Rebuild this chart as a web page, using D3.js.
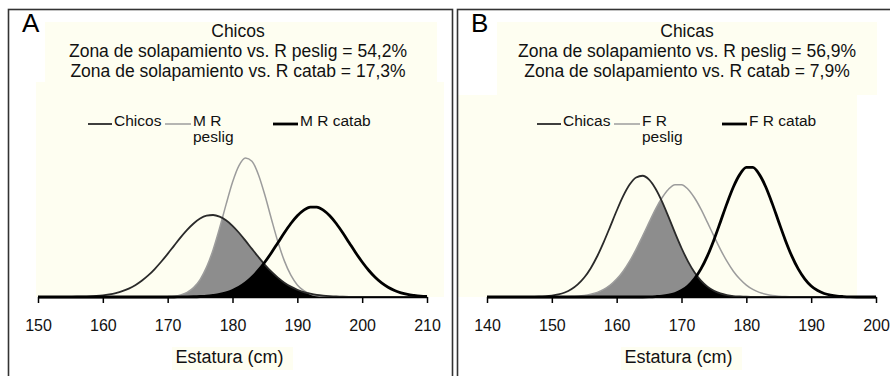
<!DOCTYPE html>
<html>
<head>
<meta charset="utf-8">
<script src="https://cdn.jsdelivr.net/npm/d3@7"></script>
<style>
  body { margin: 0; background: #fff; }
  svg { display: block; font-family: "Liberation Sans", Arial, sans-serif; }
</style>
</head>
<body>
<svg id="chart" width="890" height="376"></svg>
<script>
// estatura (cm), one value per cm; curves are relative frequency (per mil)
const estaturaA = [150,151,152,153,154,155,156,157,158,159,160,161,162,163,164,165,166,167,168,169,
  170,171,172,173,174,175,176,177,178,179,180,181,182,183,184,185,186,187,188,189,
  190,191,192,193,194,195,196,197,198,199,200,201,202,203,204,205,206,207,208,209,210];
const chicos = [0,0,0,0,0,0.1,0.2,0.3,0.5,0.8,
  1.3,2.1,3.2,4.7,6.8,9.6,13.2,17.5,22.7,28.6,
  35.0,41.7,48.3,54.4,59.6,63.6,65.9,66.5,65.2,62.2,
  57.7,52.1,45.7,39.0,32.4,26.1,20.5,15.7,11.6,8.4,
  5.9,4.0,2.7,1.7,1.1,0.7,0.4,0.2,0.1,0.1,
  0,0,0,0,0,0,0,0,0,0,0];
const mPeslig = [0,0,0,0,0,0,0,0,0,0,
  0,0,0,0,0,0,0,0,0,0.1,
  0.3,0.7,1.7,3.8,7.6,14.1,24.2,38.2,55.7,74.9,
  93.1,106.6,112.8,110.1,99.2,82.5,63.3,44.8,29.3,17.7,
  9.8,5.1,2.4,1.0,0.4,0.2,0.1,0,0,0,
  0,0,0,0,0,0,0,0,0,0,0];
const mCatab = [0,0,0,0,0,0,0,0,0,0,
  0,0,0,0,0,0,0,0,0,0,
  0,0,0.1,0.1,0.2,0.4,0.7,1.3,2.1,3.4,
  5.3,7.9,11.4,16.0,21.7,28.4,35.9,44.0,52.1,59.6,
  65.9,70.5,72.9,72.9,70.5,65.9,59.6,52.1,44.0,35.9,
  28.4,21.7,16.0,11.4,7.9,5.3,3.4,2.1,1.3,0.7,0.4];

const estaturaB = [140,141,142,143,144,145,146,147,148,149,150,151,152,153,154,155,156,157,158,159,
  160,161,162,163,164,165,166,167,168,169,170,171,172,173,174,175,176,177,178,179,
  180,181,182,183,184,185,186,187,188,189,190,191,192,193,194,195,196,197,198,199,200];
const chicas = [0,0,0,0,0,0,0,0.1,0.2,0.5,
  1.0,1.8,3.2,5.5,9.0,13.9,20.6,29.1,39.2,50.3,
  61.6,72.0,80.3,85.4,86.6,83.8,77.3,68.1,57.2,45.8,
  35.0,25.5,17.7,11.7,7.4,4.5,2.6,1.4,0.7,0.4,
  0.2,0.1,0,0,0,0,0,0,0,0,
  0,0,0,0,0,0,0,0,0,0,0];
const fPeslig = [0,0,0,0,0,0,0,0,0,0,
  0,0.1,0.2,0.3,0.6,1.1,2.0,3.3,5.4,8.5,
  12.8,18.4,25.6,34.0,43.5,53.3,62.8,70.9,77.0,80.2,
  80.2,77.0,70.9,62.8,53.3,43.5,34.0,25.6,18.4,12.8,
  8.5,5.4,3.3,2.0,1.1,0.6,0.3,0.2,0.1,0,
  0,0,0,0,0,0,0,0,0,0,0];
const fCatab = [0,0,0,0,0,0,0,0,0,0,
  0,0,0,0,0,0,0,0,0,0,
  0,0,0,0,0,0.1,0.3,0.6,1.3,2.5,
  4.6,7.9,13.0,20.1,29.4,40.8,53.6,66.7,78.6,87.6,
  92.6,92.6,87.6,78.6,66.7,53.6,40.8,29.4,20.1,13.0,
  7.9,4.6,2.5,1.3,0.6,0.3,0.1,0,0,0,0];

const ticksA = [150,160,170,180,190,200,210];
const ticksB = [140,150,160,170,180,190,200];
const titleA = ['Chicos', 'Zona de solapamiento vs. R peslig = 54,2%', 'Zona de solapamiento vs. R catab = 17,3%'];
const titleB = ['Chicas', 'Zona de solapamiento vs. R peslig = 56,9%', 'Zona de solapamiento vs. R catab = 7,9%'];
const legendA = [['Chicos'], ['M R', 'peslig'], ['M R catab']];
const legendB = [['Chicas'], ['F R', 'peslig'], ['F R catab']];
const xLabel = 'Estatura (cm)';

const svg = d3.select('#chart');
const lineStyles = [
  {stroke: '#2a2a2a', width: 1.8},
  {stroke: '#9c9c9c', width: 1.5},
  {stroke: '#000', width: 2.8}
];

const panels = [
  {id: 'A', ox: 0, xs: estaturaA, series: [chicos, mPeslig, mCatab], ticks: ticksA, title: titleA, legend: legendA,
    pxPerUnit: 1.233,
    cream: [[45, 22, 392, 60], [36, 82, 408, 215], [172, 347, 121, 23]]},
  {id: 'B', ox: 449, xs: estaturaB, series: [chicas, fPeslig, fCatab], ticks: ticksB, title: titleB, legend: legendB,
    pxPerUnit: 1.40,
    cream: [[497, 22, 380, 73], [458, 95, 399, 202], [621, 347, 121, 23]]}
];

const plotLeft = 38, plotRight = 427, axisY = 297;

panels.forEach(function(p) {
  const g = svg.append('g');

  g.selectAll('rect.cream').data(p.cream).enter().append('rect')
    .attr('x', d => d[0]).attr('y', d => d[1])
    .attr('width', d => d[2]).attr('height', d => d[3])
    .attr('fill', '#fefef1');

  // frame
  g.append('rect')
    .attr('x', p.ox + 8.5).attr('y', 9.5)
    .attr('width', 444).attr('height', 400)
    .attr('fill', 'none').attr('stroke', '#333').attr('stroke-width', 1.6);

  g.append('text')
    .attr('x', p.ox + 22).attr('y', 32)
    .attr('font-size', 26).attr('fill', '#000')
    .text(p.id);

  g.selectAll('text.title').data(p.title).enter().append('text')
    .attr('x', p.ox + 238).attr('y', (d, i) => 37 + i * 20)
    .attr('text-anchor', 'middle').attr('font-size', 17.5).attr('fill', '#111')
    .text(d => d);

  const x = d3.scaleLinear()
    .domain([p.ticks[0], p.ticks[p.ticks.length - 1]])
    .range([p.ox + plotLeft, p.ox + plotRight]);
  const y = d3.scaleLinear()
    .domain([0, 100])
    .range([axisY, axisY - 100 * p.pxPerUnit]);

  const line = d3.line()
    .x((d, i) => x(p.xs[i]))
    .y(d => y(d))
    .curve(d3.curveMonotoneX);
  const area = d3.area()
    .x((d, i) => x(p.xs[i]))
    .y0(axisY)
    .y1(d => y(d))
    .curve(d3.curveMonotoneX);

  // overlap zones: main curve clipped by each reference curve
  const defs = g.append('defs');
  [1, 2].forEach(function(k) {
    defs.append('clipPath').attr('id', 'clip' + p.id + k)
      .append('path').attr('d', area(p.series[k]));
  });
  g.append('path')
    .attr('d', area(p.series[0]))
    .attr('fill', '#8d8d8d')
    .attr('clip-path', 'url(#clip' + p.id + '1)');
  g.append('path')
    .attr('d', area(p.series[0]))
    .attr('fill', '#000')
    .attr('clip-path', 'url(#clip' + p.id + '2)');

  [1, 0, 2].forEach(function(k) {
    g.append('path')
      .attr('d', line(p.series[k]))
      .attr('fill', 'none')
      .attr('stroke', lineStyles[k].stroke)
      .attr('stroke-width', lineStyles[k].width)
      .attr('stroke-linejoin', 'round');
  });

  const axis = g.append('g')
    .attr('transform', 'translate(0,' + axisY + ')')
    .call(d3.axisBottom(x).tickValues(p.ticks).tickSize(6).tickSizeOuter(0).tickPadding(17));
  axis.select('.domain').attr('stroke', '#000').attr('stroke-width', 1.5);
  axis.selectAll('.tick line').attr('stroke', '#000').attr('stroke-width', 1.5);
  axis.selectAll('.tick text')
    .attr('font-size', 16).attr('fill', '#111')
    .attr('font-family', '"Liberation Sans", Arial, sans-serif');

  g.append('text')
    .attr('x', x.range()[0] + (x.range()[1] - x.range()[0]) / 2 - 3)
    .attr('y', 363)
    .attr('text-anchor', 'middle').attr('font-size', 18).attr('fill', '#111')
    .text(xLabel);

  // legend
  const legX = [[88, 113], [165, 192], [273, 299]];
  p.legend.forEach(function(lbl, k) {
    g.append('line')
      .attr('x1', p.ox + legX[k][0]).attr('x2', p.ox + legX[k][1] - 1)
      .attr('y1', 124).attr('y2', 124)
      .attr('stroke', lineStyles[k].stroke)
      .attr('stroke-width', lineStyles[k].width);
    lbl.forEach(function(t, j) {
      g.append('text')
        .attr('x', p.ox + legX[k][1] + 1).attr('y', 126 + j * 15.5)
        .attr('font-size', 15.5).attr('fill', '#111')
        .text(t);
    });
  });
});
</script>
</body>
</html>
